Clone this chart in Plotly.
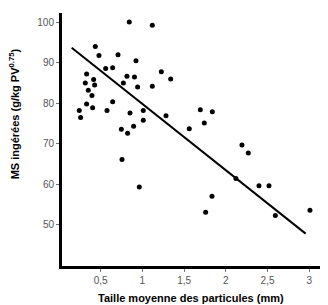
import plotly.graph_objects as go

# Particle size (mm) and dry matter intake (g/kg PV^0.75)
particle_size = [0.843, 1.119, 0.436, 0.48, 0.708, 0.56, 0.644, 0.923, 0.332, 0.815,
                 0.905, 1.227, 1.339, 0.316, 0.416, 0.428, 0.772, 0.943, 1.119, 0.352,
                 0.396, 0.644, 0.332, 0.404, 0.244, 0.576, 1.011, 0.852, 1.694, 1.838,
                 0.26, 1.283, 1.011, 1.742, 0.748, 0.895, 0.823, 1.562, 2.193, 2.269,
                 0.756, 2.121, 0.963, 2.397, 2.517, 1.834, 1.758, 2.593, 3.008]
ms_intake = [100.1, 99.3, 94.0, 91.8, 92.0, 88.6, 88.8, 90.5, 87.2, 86.7,
             86.5, 87.8, 86.0, 85.0, 85.9, 84.5, 85.0, 84.0, 84.2, 83.2,
             81.9, 80.4, 79.8, 78.9, 78.2, 78.2, 78.2, 77.6, 78.4, 77.9,
             76.5, 76.9, 75.8, 75.1, 73.6, 74.3, 72.6, 73.7, 69.7, 67.7,
             66.1, 61.4, 59.3, 59.6, 59.6, 57.0, 53.1, 52.3, 53.6]

# Regression line endpoints
fit_x = [0.153, 2.956]
fit_y = [93.7, 47.8]

x_tickvals = [0.5, 1, 1.5, 2, 2.5, 3]
x_ticktext = ["0,5", "1", "1,5", "2", "2,5", "3"]
y_tickvals = [50, 60, 70, 80, 90, 100]
y_ticktext = ["50", "60", "70", "80", "90", "100"]

fig = go.Figure()
fig.add_trace(go.Scatter(x=fit_x, y=fit_y, mode="lines",
                         line=dict(color="black", width=2), showlegend=False,
                         hoverinfo="skip"))
fig.add_trace(go.Scatter(x=particle_size, y=ms_intake, mode="markers",
                         marker=dict(color="black", size=5), showlegend=False))

tickfont = dict(family="Liberation Sans, Arial, sans-serif", size=10, color="#555")
fig.update_layout(
    width=320, height=297,
    margin=dict(l=54, r=0, t=5, b=39),
    paper_bgcolor="white", plot_bgcolor="white",
    xaxis=dict(range=[0.037, 3.224], showgrid=False, zeroline=False,
               showline=True, linecolor="black", linewidth=3,
               ticks="outside", ticklen=3, tickcolor="#777", tickwidth=1,
               tickvals=x_tickvals, ticktext=x_ticktext, tickfont=tickfont),
    yaxis=dict(range=[39.8, 102.3], showgrid=False, zeroline=False,
               showline=True, linecolor="black", linewidth=3,
               ticks="outside", ticklen=3, tickcolor="#777", tickwidth=1,
               tickvals=y_tickvals, ticktext=y_ticktext, tickfont=tickfont),
    annotations=[
        dict(text="MS ingérées (g/kg PV<sup>0.75</sup>)", xref="paper", yref="paper",
             x=-0.177, y=0.603, xanchor="center", yanchor="middle", textangle=-90,
             showarrow=False,
             font=dict(family="Liberation Sans, Arial, sans-serif", size=11, color="black",
                       weight="bold")),
        dict(text="Taille moyenne des particules (mm)", xref="paper", yref="paper",
             x=0.484, y=-0.128, xanchor="center", yanchor="middle",
             showarrow=False,
             font=dict(family="Liberation Sans, Arial, sans-serif", size=11, color="black",
                       weight="bold")),
    ],
)

fig.write_html("out.html")
